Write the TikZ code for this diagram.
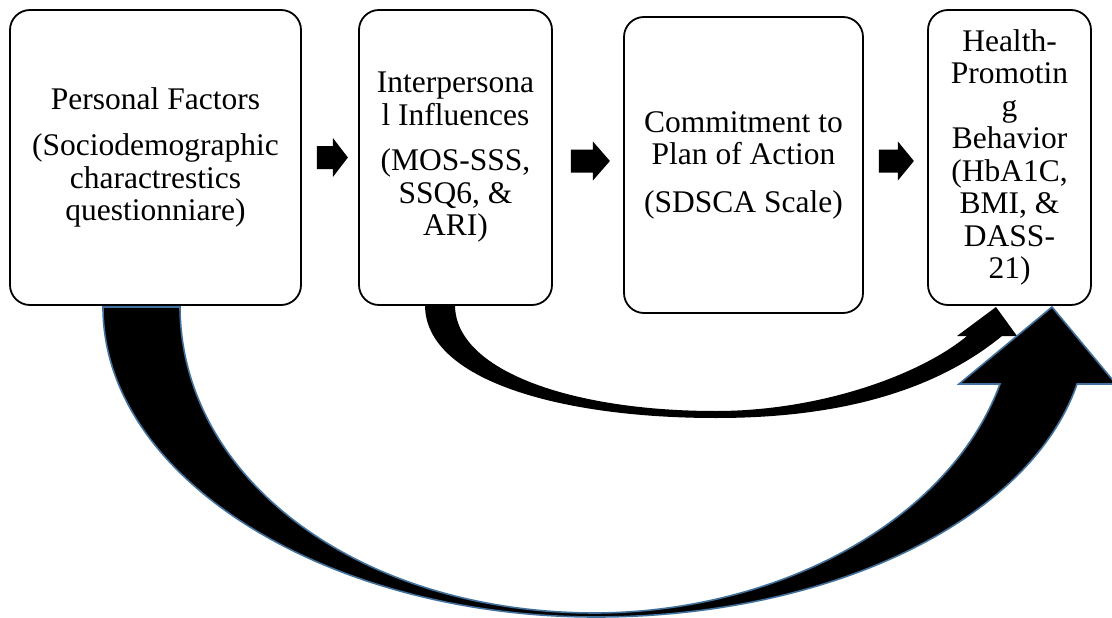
\documentclass[tikz,border=0pt]{standalone}
\usepackage{fontspec}
\setmainfont{Liberation Serif}
\usetikzlibrary{calc}
\definecolor{arrowblue}{RGB}{65,113,156}
\tikzset{
  stagebox/.style={draw=black, line width=1.8pt, rounded corners=20pt, fill=white,
    align=center, inner sep=0pt, font=\fontsize{31.5}{32.5}\selectfont},
  blockfill/.style={fill=black},
  bigband/.style={fill=black, draw=arrowblue, line width=1.6pt, line join=miter},
  pics/rarrow/.style 2 args={code={
    \fill[blockfill] (0,-11.5) -- ({#1-#2},-11.5) -- ({#1-#2},-19.5) -- (#1,0)
      -- ({#1-#2},19.5) -- ({#1-#2},11.5) -- (0,11.5) -- cycle;}}
}
\begin{document}
\begin{tikzpicture}[x=1pt,y=-1pt]
\useasboundingbox (0,0) rectangle (1112,618);

% the four stages of the model
\node[stagebox, minimum width=291pt, minimum height=295pt] (b1) at (155.5,157.5)
  {Personal Factors\\[14pt](Sociodemographic\\charactrestics\\questionniare)};
\node[stagebox, minimum width=193pt, minimum height=295pt] (b2) at (455.5,157.5)
  {Interpersona\\l Influences\\[13pt](MOS-SSS,\\SSQ6, \&\\ARI)};
\node[stagebox, minimum width=239pt, minimum height=296pt] (b3) at (743.5,165)
  {Commitment to\\Plan of Action\\[15pt](SDSCA Scale)};
\node[stagebox, minimum width=163pt, minimum height=295pt] (b4) at (1009.5,157.5)
  {Health-\\Promotin\\g\\Behavior\\(HbA1C,\\BMI, \&\\DASS-\\21)};

% straight block arrows between neighbouring stages
\pic at ($(b1.east)+(15,0)$) {rarrow={31}{15}};
\pic at ($(b2.east)+(18,3.5)$) {rarrow={39}{17}};
\pic at ($(b3.east)+(15,-4)$) {rarrow={35}{16}};

% curved arrow: interpersonal influences -> behaviour
\fill[blockfill] (425,305) -- (455,305)
  .. controls (455,370) and (570,411) .. (716,411)
  .. controls (820,411) and (920,375) .. (967,336)
  -- (957,336) -- (996,307) -- (1017,336) -- (1002,336)
  .. controls (930,395) and (830,418) .. (716,418)
  .. controls (560,418) and (425,380) .. (425,305) -- cycle;

% curved arrow: personal factors -> behaviour
\filldraw[bigband] (103,307) -- (180,307)
  .. controls (181,480) and (360,613) .. (596,613)
  .. controls (780,612) and (950,520) .. (1000,384)
  -- (959,384) -- (1052,307) -- (1116,384) -- (1077,384)
  .. controls (1030,520) and (830,617) .. (596,617)
  .. controls (330,617) and (103,480) .. (103,307) -- cycle;
\end{tikzpicture}
\end{document}
